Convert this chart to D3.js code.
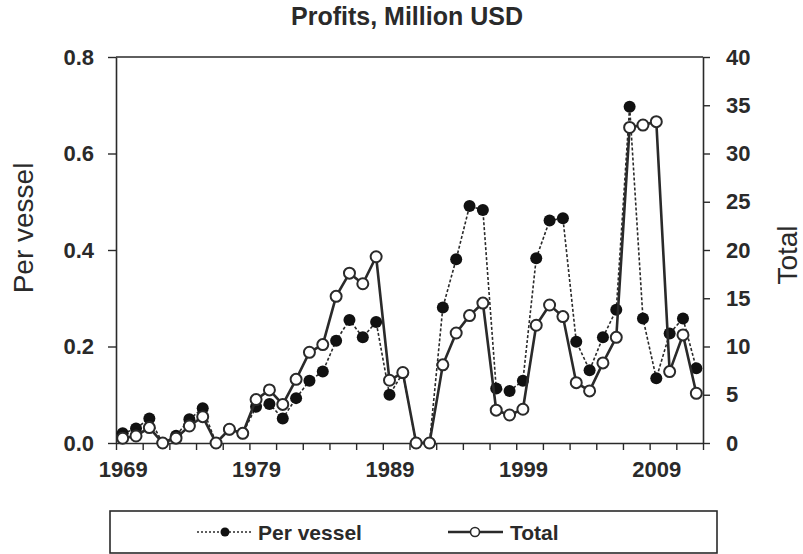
<!DOCTYPE html>
<html>
<head>
<meta charset="utf-8">
<script src="https://cdn.jsdelivr.net/npm/d3@7"></script>
<style>
  body { margin: 0; background: #fff; }
  svg { font-family: "Liberation Sans", Arial, sans-serif; }
</style>
</head>
<body>
<svg width="803" height="554"></svg>
<script>
var svg = d3.select("svg");

// data
var years = [1969, 1970, 1971, 1972, 1973, 1974, 1975, 1976, 1977, 1978,
             1979, 1980, 1981, 1982, 1983, 1984, 1985, 1986, 1987, 1988,
             1989, 1990, 1991, 1992, 1993, 1994, 1995, 1996, 1997, 1998,
             1999, 2000, 2001, 2002, 2003, 2004, 2005, 2006, 2007, 2008,
             2009, 2010, 2011, 2012];
var perVessel = [0.020, 0.030, 0.051, 0, 0.015, 0.049, 0.072, 0, 0.028, 0.020,
                 0.075, 0.081, 0.051, 0.093, 0.129, 0.148, 0.212, 0.255, 0.219, 0.251,
                 0.100, 0.145, 0, 0, 0.281, 0.381, 0.491, 0.483, 0.113, 0.108,
                 0.129, 0.383, 0.461, 0.466, 0.210, 0.151, 0.219, 0.276, 0.697, 0.258,
                 0.134, 0.227, 0.258, 0.155];
var total = [0.49, 0.73, 1.6, 0, 0.5, 1.76, 2.73, 0, 1.42, 1.0,
             4.5, 5.5, 4.0, 6.6, 9.4, 10.2, 15.2, 17.6, 16.5, 19.3,
             6.5, 7.3, 0, 0, 8.1, 11.4, 13.2, 14.5, 3.4, 2.9,
             3.5, 12.2, 14.3, 13.1, 6.25, 5.4, 8.3, 10.95, 32.7, 32.95,
             33.3, 7.4, 11.2, 5.15];
var yearLabels = [1969, 1979, 1989, 1999, 2009];
var leftTicks = [0, 0.2, 0.4, 0.6, 0.8];
var rightTicks = [0, 5, 10, 15, 20, 25, 30, 35, 40];

var ink = "#2a2a2a";
// plot box (note: "top" is a reserved window property, so use other names)
var pL = 116, pR = 703, pT = 57, pB = 443;

// scales: one category per year, points in the middle of each slot
var x = d3.scaleLinear().domain([years[0] - 0.5, years[years.length - 1] + 0.5]).range([pL, pR]);
var yL = d3.scaleLinear().domain([0, 0.8]).range([pB, pT]);
var yR = d3.scaleLinear().domain([0, 40]).range([pB, pT]);

// tick marks sit on slot boundaries, every 2 years
var boundaryTicks = years.filter(function(d, i) { return i % 2 === 0; })
  .map(function(d) { return d - 0.5; })
  .concat([years[years.length - 1] + 0.5]);

function styleAxis(g) {
  g.select(".domain").attr("stroke", ink).attr("stroke-width", 1.6);
  g.selectAll(".tick line").attr("stroke", ink).attr("stroke-width", 1.4);
  g.selectAll("text").attr("fill", ink).attr("font-size", 22).attr("font-weight", "bold")
    .attr("font-family", "'Liberation Sans', Arial, sans-serif");
}

// top frame line
svg.append("line")
  .attr("x1", pL).attr("x2", pR).attr("y1", pT).attr("y2", pT)
  .attr("stroke", ink).attr("stroke-width", 1.6);

// bottom axis: ticks only
svg.append("g")
  .attr("transform", "translate(0," + pB + ")")
  .call(d3.axisBottom(x).tickValues(boundaryTicks).tickFormat("").tickSize(7).tickSizeOuter(0))
  .call(styleAxis);

// bottom axis: year labels
svg.append("g")
  .attr("transform", "translate(0," + pB + ")")
  .call(d3.axisBottom(x).tickValues(yearLabels).tickFormat(d3.format("d")).tickSize(0).tickPadding(18))
  .call(styleAxis)
  .call(function(g) { g.select(".domain").remove(); });

// left axis
svg.append("g")
  .attr("transform", "translate(" + pL + ",0)")
  .call(d3.axisLeft(yL).tickValues(leftTicks).tickFormat(d3.format(".1f")).tickSize(8).tickPadding(14).tickSizeOuter(0))
  .call(styleAxis);

// right axis
svg.append("g")
  .attr("transform", "translate(" + pR + ",0)")
  .call(d3.axisRight(yR).tickValues(rightTicks).tickFormat(d3.format("d")).tickSize(7).tickPadding(16).tickSizeOuter(0))
  .call(styleAxis);

// lines
var lineV = d3.line()
  .x(function(d, i) { return x(years[i]); })
  .y(function(d) { return yL(d); });
var lineT = d3.line()
  .x(function(d, i) { return x(years[i]); })
  .y(function(d) { return yR(d); });

svg.append("path")
  .datum(perVessel)
  .attr("d", lineV)
  .attr("fill", "none")
  .attr("stroke", ink)
  .attr("stroke-width", 1.6)
  .attr("stroke-dasharray", "3,2");

svg.selectAll(".dotV")
  .data(perVessel)
  .enter()
  .append("circle")
  .attr("class", "dotV")
  .attr("cx", function(d, i) { return x(years[i]); })
  .attr("cy", function(d) { return yL(d); })
  .attr("r", 6)
  .attr("fill", "#111");

svg.append("path")
  .datum(total)
  .attr("d", lineT)
  .attr("fill", "none")
  .attr("stroke", ink)
  .attr("stroke-width", 2.6);

svg.selectAll(".dotT")
  .data(total)
  .enter()
  .append("circle")
  .attr("class", "dotT")
  .attr("cx", function(d, i) { return x(years[i]); })
  .attr("cy", function(d) { return yR(d); })
  .attr("r", 5.5)
  .attr("fill", "#fff")
  .attr("stroke", ink)
  .attr("stroke-width", 2);

// titles
svg.append("text")
  .attr("x", 407).attr("y", 25)
  .attr("text-anchor", "middle")
  .attr("font-size", 25).attr("font-weight", "bold").attr("fill", ink)
  .text("Profits, Million USD");

svg.append("text")
  .attr("transform", "translate(33,228) rotate(-90)")
  .attr("text-anchor", "middle")
  .attr("font-size", 28).attr("fill", ink)
  .text("Per vessel");

svg.append("text")
  .attr("transform", "translate(797,255) rotate(-90)")
  .attr("text-anchor", "middle")
  .attr("font-size", 28).attr("fill", ink)
  .text("Total");

// legend
var legend = svg.append("g");
legend.append("rect")
  .attr("x", 110).attr("y", 511).attr("width", 607).attr("height", 42)
  .attr("fill", "#fff").attr("stroke", ink).attr("stroke-width", 1.6);

legend.append("line")
  .attr("x1", 197).attr("x2", 252).attr("y1", 532).attr("y2", 532)
  .attr("stroke", ink).attr("stroke-width", 1.4).attr("stroke-dasharray", "2,2");
legend.append("circle")
  .attr("cx", 225).attr("cy", 532).attr("r", 4.5).attr("fill", "#111");
legend.append("text")
  .attr("x", 258).attr("y", 540)
  .attr("font-size", 21).attr("font-weight", "bold").attr("fill", ink)
  .text("Per vessel");

legend.append("line")
  .attr("x1", 448).attr("x2", 503).attr("y1", 532).attr("y2", 532)
  .attr("stroke", ink).attr("stroke-width", 2.4);
legend.append("circle")
  .attr("cx", 475).attr("cy", 532).attr("r", 4.5)
  .attr("fill", "#fff").attr("stroke", ink).attr("stroke-width", 1.6);
legend.append("text")
  .attr("x", 510).attr("y", 540)
  .attr("font-size", 21).attr("font-weight", "bold").attr("fill", ink)
  .text("Total");
</script>
</body>
</html>
